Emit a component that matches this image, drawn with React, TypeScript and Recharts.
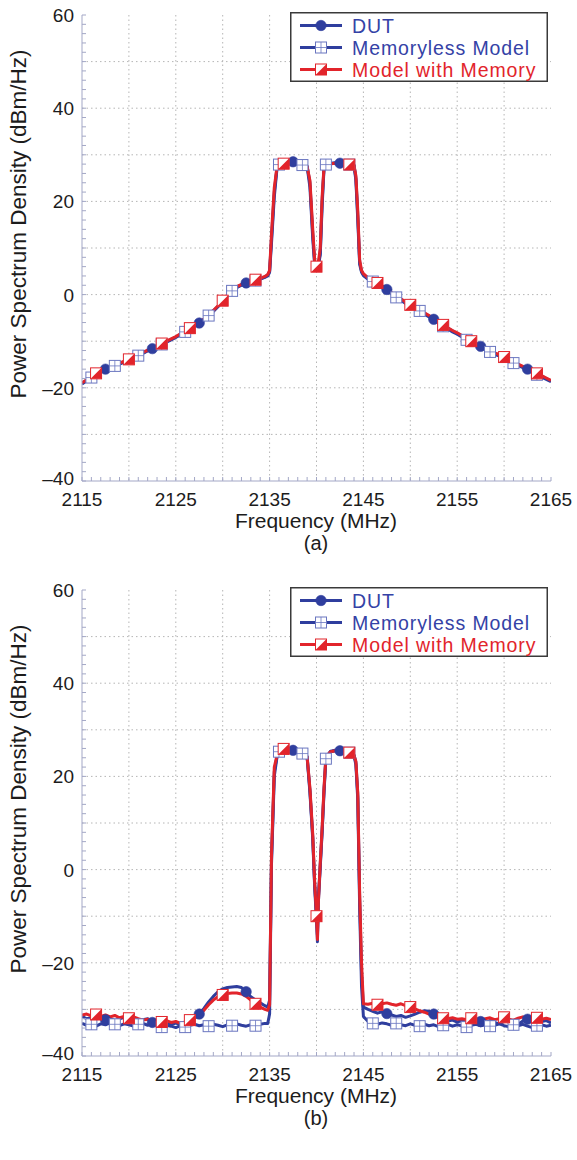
import React from 'react';
import { LineChart, Line, XAxis, YAxis, CartesianGrid } from 'recharts';

const FONT = '"Liberation Sans", Arial, Helvetica, sans-serif';
const BLUE = '#2f3e9e';
const BLUE_LIGHT = '#6a76c0';
const RED = '#e2242b';
const FRAME = '#a3a7c6';
const GRID = '#b5b5b5';

// Frequency samples (MHz)
const frequencies = [
  2115, 2115.5, 2116, 2116.5, 2117, 2117.5, 2118, 2118.5, 2119, 2119.5,
  2120, 2120.5, 2121, 2121.5, 2122, 2122.5, 2123, 2123.5, 2124, 2124.5,
  2125, 2125.5, 2126, 2126.5, 2127, 2127.5, 2128, 2128.5, 2129, 2129.5,
  2130, 2130.5, 2131, 2131.5, 2132, 2132.5, 2133, 2133.5, 2134, 2134.5,
  2134.8, 2135, 2135.2, 2135.5, 2135.8, 2136, 2136.5, 2137, 2137.5, 2138,
  2138.5, 2139, 2139.3, 2139.6, 2139.8, 2140, 2140.1, 2140.2, 2140.4, 2140.6,
  2140.8, 2141, 2141.5, 2142, 2142.5, 2143, 2143.5, 2144, 2144.2, 2144.4,
  2144.6, 2144.8, 2145,
  2145.5, 2146, 2146.5, 2147, 2147.5, 2148, 2148.5, 2149, 2149.5, 2150,
  2150.5, 2151, 2151.5, 2152, 2152.5, 2153, 2153.5, 2154, 2154.5, 2155,
  2155.5, 2156, 2156.5, 2157, 2157.5, 2158, 2158.5, 2159, 2159.5, 2160,
  2160.5, 2161, 2161.5, 2162, 2162.5, 2163, 2163.5, 2164, 2164.5, 2165,
];

// (a) PSD, dBm/Hz
const aDut = [
  -19.0, -18.4, -17.6, -17.0, -16.4, -16.0, -15.6, -15.2, -14.8, -14.4,
  -14.0, -13.5, -13.0, -12.5, -12.0, -11.6, -11.1, -10.6, -10.1, -9.6,
  -9.1, -8.5, -7.9, -7.3, -6.7, -6.1, -5.3, -4.4, -3.5, -2.5,
  -1.4, -0.2, 0.9, 1.6, 2.1, 2.5, 2.8, 3.1, 3.4, 3.8,
  4.2, 5.0, 12, 22, 27.5, 28.0, 28.2, 28.4, 28.5, 28.2,
  28.0, 27.6, 24, 13, 7, 5.5, 5.5, 6.5, 9, 20,
  27.3, 28.0, 28.2, 28.3, 28.2, 28.1, 28.0, 27.8, 25, 17,
  7, 5, 4.3,
  3.5, 3.0, 2.4, 1.8, 1.1, 0.3, -0.4, -1.0, -1.7, -2.3,
  -2.8, -3.3, -4.0, -4.6, -5.3, -5.9, -6.6, -7.2, -7.8, -8.3,
  -8.9, -9.5, -10.1, -10.6, -11.1, -11.6, -12.1, -12.6, -13.0, -13.5,
  -14.0, -14.5, -15.0, -15.5, -16.0, -16.5, -17.0, -17.5, -18.0, -18.5,
];
const aMemoryless = [
  -19.2, -18.5, -17.8, -17.1, -16.6, -16.1, -15.7, -15.3, -14.9, -14.5,
  -14.1, -13.6, -13.1, -12.6, -12.1, -11.7, -11.2, -10.7, -10.2, -9.7,
  -9.2, -8.6, -8.0, -7.4, -6.8, -6.2, -5.4, -4.5, -3.6, -2.6,
  -1.5, -0.3, 0.8, 1.5, 2.0, 2.4, 2.7, 3.0, 3.3, 3.7,
  4.0, 4.8, 11, 21, 27.3, 27.9, 28.1, 28.2, 28.3, 28.0,
  27.8, 27.4, 23, 12, 6.5, 5.8, 5.6, 6.2, 8.5, 19,
  27.0, 27.9, 28.1, 28.2, 28.1, 28.0, 27.9, 27.6, 24.5, 16,
  6.5, 4.8, 4.1,
  3.3, 2.8, 2.2, 1.6, 0.9, 0.1, -0.6, -1.2, -1.9, -2.5,
  -3.0, -3.5, -4.2, -4.8, -5.5, -6.1, -6.8, -7.4, -8.0, -8.5,
  -9.1, -9.7, -10.3, -10.8, -11.3, -11.8, -12.3, -12.8, -13.2, -13.7,
  -14.2, -14.7, -15.2, -15.7, -16.2, -16.7, -17.2, -17.7, -18.2, -18.7,
];
const aMemory = [
  -18.9, -18.3, -17.5, -16.9, -16.3, -15.9, -15.5, -15.1, -14.7, -14.3,
  -13.9, -13.4, -12.9, -12.4, -11.9, -11.5, -11.0, -10.5, -10.0, -9.5,
  -9.0, -8.4, -7.8, -7.2, -6.6, -6.0, -5.2, -4.3, -3.4, -2.4,
  -1.3, -0.1, 1.0, 1.7, 2.2, 2.6, 2.9, 3.2, 3.5, 3.9,
  4.3, 5.2, 13, 23, 27.6, 28.0, 28.1, 28.3, 28.4, 28.1,
  27.9, 27.5, 24.5, 14, 7.5, 6.0, 5.8, 7.0, 10, 21,
  27.4, 28.0, 28.1, 28.2, 28.1, 28.0, 27.9, 27.7, 25.5, 18,
  7.5, 5.2, 4.5,
  3.6, 3.1, 2.5, 1.9, 1.2, 0.4, -0.3, -0.9, -1.6, -2.2,
  -2.7, -3.2, -3.9, -4.5, -5.2, -5.8, -6.5, -7.1, -7.7, -8.2,
  -8.8, -9.4, -10.0, -10.5, -11.0, -11.5, -12.0, -12.5, -12.9, -13.4,
  -13.9, -14.4, -14.9, -15.4, -15.9, -16.4, -16.9, -17.4, -17.9, -18.4,
];

// (b) PSD, dBm/Hz
const bDut = [
  -31.5, -32.0, -31.8, -31.3, -31.6, -32.2, -31.9, -32.4, -32.0, -31.7,
  -32.3, -32.1, -32.6, -32.2, -32.0, -32.8, -32.5, -33.0, -32.6, -33.3,
  -32.9, -33.4, -32.8, -32.4, -31.8, -31.0, -29.8, -28.4, -27.2, -26.2,
  -25.6, -25.3, -25.2, -25.1, -25.3, -26.2, -27.3, -28.0, -28.6, -29.2,
  -29.5, -28, 2, 21, 24.5, 25.5, 26.0, 25.8, 25.6, 25.3,
  25.0, 24.3, 17, 7, -3, -10, -15.5, -6, 1, 8.4,
  17, 24, 25.4, 25.6, 25.5, 25.4, 25.2, 24.6, 23, 16,
  -6, -22, -29.5,
  -30.0, -30.4, -30.8, -30.5, -30.9, -31.2, -31.5, -31.3, -31.7, -31.4,
  -31.0, -30.6, -30.3, -30.4, -31.0, -31.8, -32.2, -32.5, -32.3, -32.7,
  -32.4, -32.8, -32.5, -32.1, -32.6, -32.9, -32.4, -32.8, -33.1, -32.6,
  -32.3, -32.9, -33.2, -32.5, -32.1, -32.7, -33.0, -32.6, -32.4, -32.9,
];
const bMemoryless = [
  -33.0, -33.4, -33.2, -33.6, -33.1, -33.3, -32.9, -33.2, -33.5, -33.1,
  -33.3, -33.6, -33.2, -33.0, -33.4, -33.1, -33.5, -33.8, -33.4, -33.6,
  -33.9, -33.5, -33.8, -33.4, -33.2, -33.5, -33.3, -33.6, -33.2, -33.4,
  -33.7, -33.3, -33.5, -33.1, -33.4, -33.6, -33.3, -33.5, -33.2, -33.0,
  -33.0, -31, 1, 20, 24.3, 25.3, 25.8, 25.7, 25.5, 25.2,
  24.9, 24.1, 16.5, 6.5, -3.5, -11, -14, -7, 0.5, 8,
  16.5, 23.8, 25.3, 25.5, 25.4, 25.3, 25.1, 24.4, 22.5, 15,
  -8, -25, -31.5,
  -32.6, -33.0, -33.2, -32.9, -33.1, -33.4, -33.0, -33.3, -33.5, -33.1,
  -33.4, -33.6, -33.2, -33.5, -33.3, -33.7, -33.4, -33.2, -33.6, -33.3,
  -33.5, -33.8, -33.4, -33.2, -33.5, -33.3, -33.6, -33.4, -33.1, -33.5,
  -33.7, -33.3, -33.5, -33.2, -33.6, -33.9, -33.5, -33.3, -33.6, -33.4,
];
const bMemory = [
  -31.2, -31.0, -31.4, -31.1, -31.5, -31.2, -31.6, -31.3, -31.8, -31.5,
  -31.9, -31.6, -32.0, -32.3, -32.1, -32.5, -32.3, -32.7, -32.4, -32.8,
  -32.6, -33.0, -32.7, -32.3, -31.9, -31.2, -30.2, -29.0, -28.0, -27.3,
  -26.9, -26.6, -26.5, -26.5, -26.7, -27.2, -28.0, -28.8, -29.5, -30.0,
  -30.2, -29, 3, 22, 24.6, 25.4, 25.9, 25.7, 25.5, 25.2,
  24.9, 24.2, 17.5, 7.5, -2.5, -10, -15, -7, 1.5, 9,
  17.5, 24.2, 25.3, 25.5, 25.4, 25.3, 25.1, 24.5, 23.2, 16.5,
  -5, -20, -28.8,
  -28.9, -28.7, -29.0, -28.8, -28.6, -28.9, -29.1, -28.8, -29.2, -29.5,
  -29.9, -30.3, -30.6, -31.0, -31.4, -31.7, -31.9, -32.0, -31.8, -32.1,
  -32.0, -32.2, -31.9, -32.1, -32.3, -32.0, -31.8, -32.2, -32.0, -31.7,
  -32.1, -32.3, -31.9, -31.6, -32.0, -32.2, -31.8, -32.1, -31.9, -32.2,
];

// Marker frequencies per series
const dutMarkers = [2117.5, 2122.5, 2127.5, 2132.5, 2137.5, 2142.5, 2147.5, 2152.5, 2157.5, 2162.5];
const memorylessMarkers = [2116, 2118.5, 2121, 2123.5, 2126, 2128.5, 2131, 2133.5, 2136, 2138.5, 2141, 2143.5, 2146, 2148.5, 2151, 2153.5, 2156, 2158.5, 2161, 2163.5];
const memoryMarkers = [2116.5, 2120, 2123.5, 2126.5, 2130, 2133.5, 2136.5, 2140, 2143.5, 2146.5, 2150, 2153.5, 2156.5, 2160, 2163.5];

// Axis ticks
const xTickLabels = [2115, 2125, 2135, 2145, 2155, 2165];
const yTickLabels = [-40, -20, 0, 20, 40, 60];
const xMinorTicks = Array.from({ length: 51 }, (_, i) => 2115 + i);
const yMinorTicks = Array.from({ length: 51 }, (_, i) => -40 + 2 * i);
const gridX = [2120, 2125, 2130, 2135, 2140, 2145, 2150, 2155, 2160];
const gridY = [-30, -20, -10, 0, 10, 20, 30, 40, 50];

const seriesNames = ['DUT', 'Memoryless Model', 'Model with Memory'];

const dataA = frequencies.map((f, i) => ({ f, dut: aDut[i], ml: aMemoryless[i], mem: aMemory[i] }));
const dataB = frequencies.map((f, i) => ({ f, dut: bDut[i], ml: bMemoryless[i], mem: bMemory[i] }));

type Kind = 'circle' | 'plus' | 'half';

function renderMarker(kind: Kind, cx: number, cy: number) {
  const s = 5.5;
  if (kind === 'circle') return <circle cx={cx} cy={cy} r={5.2} fill={BLUE} stroke={BLUE} strokeWidth={0.6} />;
  if (kind === 'plus')
    return (
      <g>
        <rect x={cx - s} y={cy - s} width={2 * s} height={2 * s} fill="#fff" stroke={BLUE_LIGHT} strokeWidth={1} />
        <line x1={cx - s} x2={cx + s} y1={cy} y2={cy} stroke={BLUE_LIGHT} strokeWidth={0.8} />
        <line x1={cx} x2={cx} y1={cy - s} y2={cy + s} stroke={BLUE_LIGHT} strokeWidth={0.8} />
      </g>
    );
  return (
    <g>
      <rect x={cx - s} y={cy - s} width={2 * s} height={2 * s} fill="#fff" stroke={RED} strokeWidth={1} />
      <polygon points={`${cx + s},${cy - s} ${cx + s},${cy + s} ${cx - s},${cy + s}`} fill={RED} />
    </g>
  );
}

const makeDot = (marks: number[], kind: Kind) => (props: any) => {
  const { cx, cy, payload, index } = props;
  if (cx == null || cy == null || !payload || !marks.includes(payload.f)) return <g key={`e-${index}`} />;
  return <g key={`m-${index}`}>{renderMarker(kind, cx, cy)}</g>;
};

const BottomTick = (props: any) => {
  const { x, y, payload } = props;
  const v = payload.value;
  return (
    <g>
      <line x1={x} x2={x} y1={y} y2={y - 4} stroke={FRAME} strokeWidth={1} />
      {xTickLabels.includes(v) && (
        <text x={x} y={y + 25} textAnchor="middle" fontSize={19} fontFamily={FONT} fill="#1c1c1c">
          {v}
        </text>
      )}
    </g>
  );
};
const TopTick = (props: any) => {
  const { x, y } = props;
  return <line x1={x} x2={x} y1={y} y2={y + 4} stroke={FRAME} strokeWidth={1} />;
};
const LeftTick = (props: any) => {
  const { x, y, payload } = props;
  const v = payload.value;
  return (
    <g>
      <line x1={x} x2={x + 4} y1={y} y2={y} stroke={FRAME} strokeWidth={1} />
      {yTickLabels.includes(v) && (
        <text x={x - 8} y={y + (v === -40 ? 4 : 7)} textAnchor="end" fontSize={19} fontFamily={FONT} fill="#1c1c1c">
          {v < 0 ? `\u2013${Math.abs(v)}` : `${v}`}
        </text>
      )}
    </g>
  );
};
const RightTick = (props: any) => {
  const { x, y } = props;
  return <line x1={x} x2={x - 4} y1={y} y2={y} stroke={FRAME} strokeWidth={1} />;
};

function Legend({ left, top }: { left: number; top: number }) {
  const kinds: Kind[] = ['circle', 'plus', 'half'];
  const colors = [BLUE, BLUE, RED];
  const textColors = ['#3442a6', '#3442a6', '#e2242b'];
  return (
    <svg style={{ position: 'absolute', left, top }} width={258} height={70}>
      <rect x={0.75} y={0.75} width={256.5} height={68.5} fill="#fff" stroke="#3a3a3a" strokeWidth={1.5} />
      {seriesNames.map((name, i) => {
        const cy = 13.5 + i * 22;
        return (
          <g key={name}>
            <line x1={10} x2={52} y1={cy} y2={cy} stroke={colors[i]} strokeWidth={3} />
            {renderMarker(kinds[i], 31, cy)}
            <text x={62} y={cy + 7} fontSize={19.5} letterSpacing={0.9} fontFamily={FONT} fill={textColors[i]}>
              {name}
            </text>
          </g>
        );
      })}
    </svg>
  );
}

function SpectrumChart({ data, top, caption }: { data: any[]; top: number; caption: string }) {
  return (
    <div style={{ position: 'absolute', left: 0, top, width: 577, height: 580 }}>
      <LineChart width={577} height={560} data={data} margin={{ top: 15, right: 26, bottom: 0, left: 0 }}>
        <CartesianGrid
          verticalValues={gridX}
          horizontalValues={gridY}
          stroke={GRID}
          strokeDasharray="1.5 3"
        />
        <XAxis
          dataKey="f"
          type="number"
          domain={[2115, 2165]}
          ticks={xMinorTicks}
          interval={0}
          tickSize={0}
          tickMargin={0}
          tickLine={false}
          axisLine={{ stroke: FRAME }}
          tick={BottomTick}
          height={79}
          allowDataOverflow
        />
        <XAxis
          xAxisId="top"
          orientation="top"
          dataKey="f"
          type="number"
          domain={[2115, 2165]}
          ticks={xMinorTicks}
          interval={0}
          tickSize={0}
          tickMargin={0}
          tickLine={false}
          axisLine={{ stroke: FRAME }}
          tick={TopTick}
          height={0}
          allowDataOverflow
        />
        <YAxis
          type="number"
          domain={[-40, 60]}
          ticks={yMinorTicks}
          interval={0}
          tickSize={0}
          tickMargin={0}
          tickLine={false}
          axisLine={{ stroke: FRAME }}
          tick={LeftTick}
          width={82}
          allowDataOverflow
        />
        <YAxis
          yAxisId="right"
          orientation="right"
          type="number"
          domain={[-40, 60]}
          ticks={yMinorTicks}
          interval={0}
          tickSize={0}
          tickMargin={0}
          tickLine={false}
          axisLine={{ stroke: FRAME }}
          tick={RightTick}
          width={0}
          allowDataOverflow
        />
        <Line dataKey="dut" stroke={BLUE} strokeWidth={3} dot={false} activeDot={false} isAnimationActive={false} strokeLinejoin="round" />
        <Line dataKey="ml" stroke={BLUE} strokeWidth={3} dot={false} activeDot={false} isAnimationActive={false} strokeLinejoin="round" />
        <Line dataKey="mem" stroke={RED} strokeWidth={3} dot={false} activeDot={false} isAnimationActive={false} strokeLinejoin="round" />
        <Line dataKey="dut" stroke="none" dot={makeDot(dutMarkers, 'circle')} activeDot={false} isAnimationActive={false} />
        <Line dataKey="ml" stroke="none" dot={makeDot(memorylessMarkers, 'plus')} activeDot={false} isAnimationActive={false} />
        <Line dataKey="mem" stroke="none" dot={makeDot(memoryMarkers, 'half')} activeDot={false} isAnimationActive={false} />
      </LineChart>
      <Legend left={290} top={12} />
      <svg style={{ position: 'absolute', left: 0, top: 0, pointerEvents: 'none' }} width={577} height={580}>
        <text
          transform="translate(26,224) rotate(-90)"
          textAnchor="middle"
          fontSize={22.5}
          fontFamily={FONT}
          fill="#1c1c1c"
        >
          Power Spectrum Density (dBm/Hz)
        </text>
        <text x={316} y={528} textAnchor="middle" fontSize={21} fontFamily={FONT} fill="#1c1c1c">
          Frequency (MHz)
        </text>
        <text x={316} y={550} textAnchor="middle" fontSize={20} fontFamily={FONT} fill="#1c1c1c">
          {caption}
        </text>
      </svg>
    </div>
  );
}

export default function App() {
  return (
    <div style={{ position: 'absolute', left: 0, top: 0, width: 577, height: 1160, background: '#fff', fontFamily: FONT }}>
      <SpectrumChart data={dataA} top={0} caption="(a)" />
      <SpectrumChart data={dataB} top={575} caption="(b)" />
    </div>
  );
}
